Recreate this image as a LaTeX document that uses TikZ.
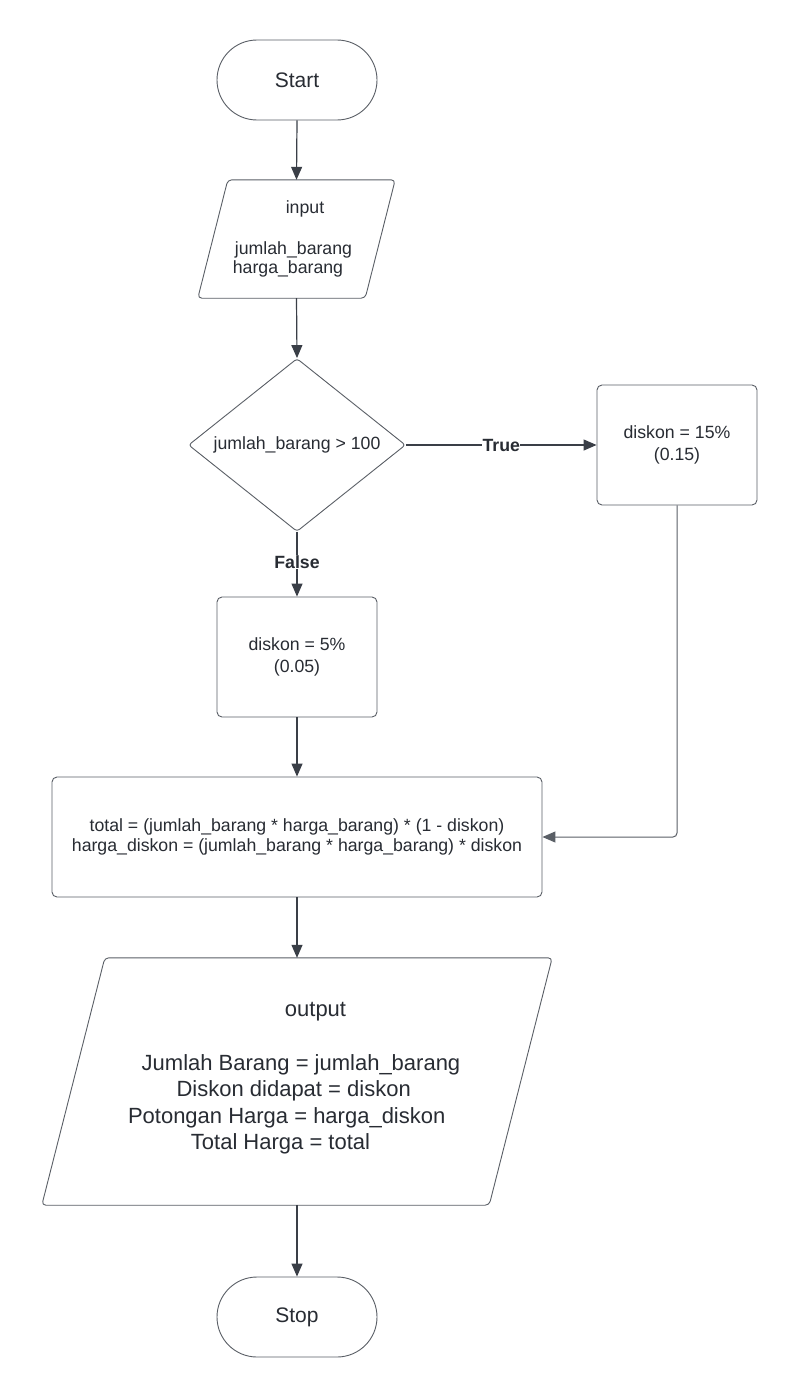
\documentclass[tikz,border=0pt]{standalone}
\usepackage{fontspec}
\setmainfont{Liberation Sans}
\usetikzlibrary{arrows.meta,shapes.geometric,calc}
\definecolor{edgecol}{HTML}{5A5F66}
\definecolor{arrcol}{HTML}{3A3F47}
\definecolor{txtcol}{HTML}{282C33}
\begin{document}
\begin{tikzpicture}[x=1pt,y=-1pt,
  basebox/.style={draw=edgecol, line width=0.9pt, text=txtcol, inner sep=0pt, align=center,
    font=\fontsize{17.7}{21.5}\selectfont},
  term/.style={basebox, rounded corners=40pt, minimum width=160pt, minimum height=80pt,
    font=\fontsize{21}{25}\selectfont},
  procbox/.style={basebox, rounded corners=5pt},
  decision/.style={basebox, diamond, shape aspect=1.25, rounded corners=3pt,
    minimum width=217pt, minimum height=173pt},
  ioframe/.style={inner sep=0pt, draw=none},
  ioline/.style={draw=edgecol, line width=0.9pt, rounded corners=4pt},
  smalltxt/.style={text=txtcol, inner sep=0pt, anchor=base, font=\fontsize{17.7}{21}\selectfont},
  bigtxt/.style={text=txtcol, inner sep=0pt, anchor=base, font=\fontsize{22}{26}\selectfont},
  flow/.style={draw=arrcol, line width=1.2pt, -{Triangle[length=13pt,width=11pt]}},
  sideflow/.style={draw=edgecol, line width=1pt, rounded corners=4pt, -{Triangle[length=13pt,width=11pt]}},
  lbl/.style={text=txtcol, fill=white, inner sep=0.5pt, font=\bfseries\fontsize{17.7}{21}\selectfont},
]
\useasboundingbox[fill=white] (0,0) rectangle (797,1397);

% nodes
\node[term] (start) at (297,80) {Start};

\node[ioframe, minimum width=197pt, minimum height=118pt] (in) at (296.5,239) {};
\draw[ioline] ($(in.north west)+(30,0)$) -- (in.north east) -- ($(in.south east)+(-30,0)$) -- (in.south west) -- cycle;
\node[smalltxt] (inA) at (305,213) {input};
\node[smalltxt] (inB) at (293.5,254) {jumlah\_barang};
\node[smalltxt] (inC) at (288,273) {harga\_barang};

\node[decision] (dec) at (297,445) {jumlah\_barang > 100};

\node[procbox, minimum width=160pt, minimum height=120pt] (d15) at (677,445) {diskon = 15\%\\(0.15)};
\node[procbox, minimum width=160pt, minimum height=120pt] (d5) at (297,657) {diskon = 5\%\\(0.05)};

\node[procbox, minimum width=490pt, minimum height=120pt, font=\fontsize{17.7}{20}\selectfont] (calc) at (297,837)
  {total = (jumlah\_barang * harga\_barang) * (1 - diskon)\\harga\_diskon = (jumlah\_barang * harga\_barang) * diskon};

\node[ioframe, minimum width=510pt, minimum height=247pt] (out) at (297,1081.5) {};
\draw[ioline] ($(out.north west)+(63,0)$) -- (out.north east) -- ($(out.south east)+(-63,0)$) -- (out.south west) -- cycle;
\node[bigtxt] (outA) at (315.5,1016.5) {output};
\node[bigtxt] (outB) at (301,1070) {Jumlah Barang = jumlah\_barang};
\node[bigtxt] (outC) at (293.7,1096.5) {Diskon didapat = diskon};
\node[bigtxt] (outD) at (286.7,1123) {Potongan Harga = harga\_diskon};
\node[bigtxt] (outE) at (280.5,1149.5) {Total Harga = total};

\node[term] (stop) at (297,1317) {Stop};

% connectors
\draw[flow] (start.south) -- (in.north);
\draw[flow] (in.south) -- (dec.north);
\draw[flow] (dec.east) -- node[lbl] {True} (d15.west);
\draw[flow] (dec.south) -- node[lbl, pos=0.47] {False} (d5.north);
\draw[flow] (d5.south) -- (calc.north);
\draw[sideflow] (d15.south) |- (calc.east);
\draw[flow] (calc.south) -- (out.north);
\draw[flow] (out.south) -- (stop.north);
\end{tikzpicture}
\end{document}
